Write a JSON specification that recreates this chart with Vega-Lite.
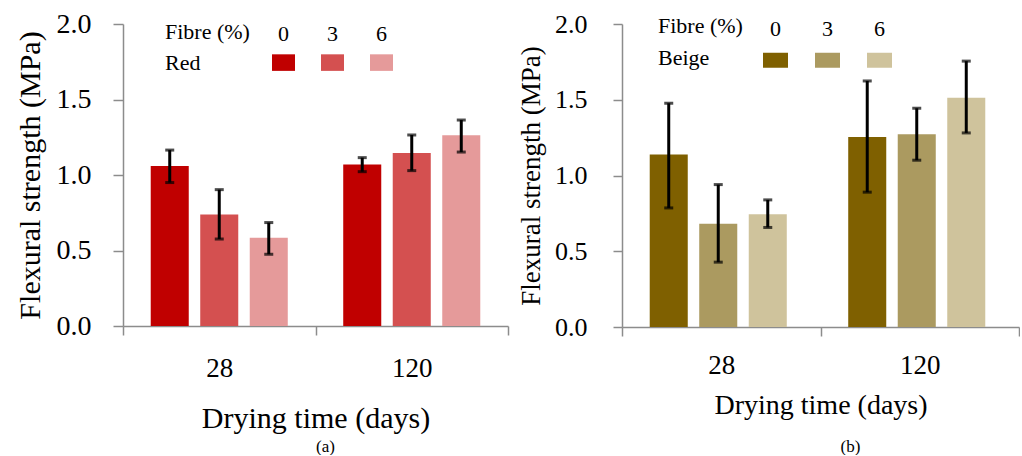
{
  "$schema": "https://vega.github.io/schema/vega-lite/v6.json",
  "padding": {"left": 14, "top": 10, "right": 0, "bottom": 0},
  "spacing": 8,
  "background": "white",
  "config": {
    "view": {"stroke": null},
    "font": "Liberation Serif",
    "axis": {
      "grid": false,
      "domainColor": "#8c8c8c",
      "tickColor": "#8c8c8c",
      "domainWidth": 1.5,
      "tickWidth": 1.5,
      "labelColor": "black",
      "titleColor": "black",
      "titleFontWeight": "normal",
      "labelFont": "Liberation Serif",
      "titleFont": "Liberation Serif"
    },
    "legend": {
      "labelFont": "Liberation Serif",
      "titleFont": "Liberation Serif",
      "titleFontWeight": "normal",
      "labelColor": "black",
      "titleColor": "black"
    }
  },
  "datasets": {
    "red": [
      {"days": "28", "fibre": "0", "mean": 1.06, "low": 0.95, "high": 1.165},
      {"days": "28", "fibre": "3", "mean": 0.738, "low": 0.576, "high": 0.903},
      {"days": "28", "fibre": "6", "mean": 0.585, "low": 0.475, "high": 0.685},
      {"days": "120", "fibre": "0", "mean": 1.069, "low": 1.022, "high": 1.115},
      {"days": "120", "fibre": "3", "mean": 1.146, "low": 1.029, "high": 1.265},
      {"days": "120", "fibre": "6", "mean": 1.263, "low": 1.152, "high": 1.364}
    ],
    "beige": [
      {"days": "28", "fibre": "0", "mean": 1.138, "low": 0.786, "high": 1.477},
      {"days": "28", "fibre": "3", "mean": 0.681, "low": 0.428, "high": 0.94},
      {"days": "28", "fibre": "6", "mean": 0.745, "low": 0.657, "high": 0.839},
      {"days": "120", "fibre": "0", "mean": 1.254, "low": 0.89, "high": 1.624},
      {"days": "120", "fibre": "3", "mean": 1.272, "low": 1.101, "high": 1.444},
      {"days": "120", "fibre": "6", "mean": 1.514, "low": 1.281, "high": 1.755}
    ]
  },
  "resolve": {"scale": {"fill": "independent"}, "legend": {"fill": "independent"}},
  "hconcat": [
    {
      "width": 385,
      "height": 302,
      "data": {"name": "red"},
      "title": {"text": "(a)", "orient": "bottom", "fontSize": 17, "fontWeight": "normal", "font": "Liberation Serif", "dx": 10, "offset": 6},
      "encoding": {
        "x": {
          "field": "days", "type": "nominal", "sort": ["28", "120"],
          "scale": {"paddingInner": 0, "paddingOuter": 0},
          "title": "Drying time (days)",
          "axis": {"labelAngle": 0, "tickBand": "extent", "tickSize": 9, "labelPadding": 20, "labelFont": "Liberation Serif", "labelFontSize": 27, "titleFontSize": 30, "titlePadding": 22}
        },
        "xOffset": {"field": "fibre", "type": "nominal", "sort": ["0", "3", "6"], "scale": {"paddingInner": 0.232, "paddingOuter": 0.56}}
      },
      "layer": [
        {
          "mark": {"type": "bar"},
          "encoding": {
            "y": {
              "field": "mean", "type": "quantitative",
              "scale": {"domain": [0, 2]},
              "title": "Flexural strength (MPa)",
              "axis": {"values": [0, 0.5, 1, 1.5, 2], "format": ".1f", "tickSize": 10, "labelPadding": 22, "labelFont": "Liberation Serif", "labelFontSize": 28, "titleFontSize": 30, "titlePadding": 11}
            },
            "fill": {
              "field": "fibre", "type": "nominal",
              "scale": {"domain": ["0", "3", "6"], "range": ["#c00000", "#d45050", "#e59a9a"]},
              "legend": {
                "orient": "none", "legendX": 42, "legendY": -2,
                "direction": "horizontal",
                "title": ["Fibre (%)", "Red"],
                "titleOrient": "left", "titleAnchor": "start", "titleBaseline": "top",
                "titleFont": "Liberation Serif", "labelFont": "Liberation Serif",
                "titleFontSize": 22, "titleLineHeight": 30.5, "titlePadding": 22,
                "labelFontSize": 22, "labelAlign": "center", "labelBaseline": "middle", "labelOffset": -11.5,
                "symbolType": "M-1,1.8H1V3.24H-1Z", "symbolSize": 529, "symbolStrokeWidth": 0, "symbolOpacity": 1,
                "columnPadding": 26
              }
            }
          }
        },
        {
          "mark": {"type": "rule", "strokeWidth": 3, "color": "black"},
          "encoding": {"y": {"field": "low", "type": "quantitative"}, "y2": {"field": "high"}}
        },
        {
          "mark": {"type": "tick", "thickness": 3, "size": 9, "color": "black"},
          "encoding": {"y": {"field": "low", "type": "quantitative"}}
        },
        {
          "mark": {"type": "tick", "thickness": 3, "size": 9, "color": "black"},
          "encoding": {"y": {"field": "high", "type": "quantitative"}}
        }
      ]
    },
    {
      "width": 397,
      "height": 303,
      "data": {"name": "beige"},
      "title": {"text": "(b)", "orient": "bottom", "fontSize": 17, "fontWeight": "normal", "font": "Liberation Serif", "dx": 30, "offset": 20},
      "encoding": {
        "x": {
          "field": "days", "type": "nominal", "sort": ["28", "120"],
          "scale": {"paddingInner": 0, "paddingOuter": 0},
          "title": "Drying time (days)",
          "axis": {"labelAngle": 0, "tickBand": "extent", "tickSize": 9, "labelPadding": 16, "labelFont": "Liberation Serif", "labelFontSize": 27, "titleFontSize": 28, "titlePadding": 13}
        },
        "xOffset": {"field": "fibre", "type": "nominal", "sort": ["0", "3", "6"], "scale": {"paddingInner": 0.153, "paddingOuter": 0.6}}
      },
      "layer": [
        {
          "mark": {"type": "bar"},
          "encoding": {
            "y": {
              "field": "mean", "type": "quantitative",
              "scale": {"domain": [0, 2]},
              "title": "Flexural strength (MPa)",
              "axis": {"values": [0, 0.5, 1, 1.5, 2], "format": ".1f", "tickSize": 9, "labelPadding": 26, "labelFont": "Liberation Serif", "labelFontSize": 26, "titleFontSize": 27, "titlePadding": 9}
            },
            "fill": {
              "field": "fibre", "type": "nominal",
              "scale": {"domain": ["0", "3", "6"], "range": ["#7f6000", "#ab9a60", "#cfc39c"]},
              "legend": {
                "orient": "none", "legendX": 36, "legendY": -8,
                "direction": "horizontal",
                "title": ["Fibre (%)", "Beige"],
                "titleOrient": "left", "titleAnchor": "start", "titleBaseline": "top",
                "titleFont": "Liberation Serif", "labelFont": "Liberation Serif",
                "titleFontSize": 22, "titleLineHeight": 32, "titlePadding": 20,
                "labelFontSize": 22, "labelAlign": "center", "labelBaseline": "middle", "labelOffset": -12.5,
                "symbolType": "M-1,1.92H1V3.12H-1Z", "symbolSize": 625, "symbolStrokeWidth": 0, "symbolOpacity": 1,
                "columnPadding": 27
              }
            }
          }
        },
        {
          "mark": {"type": "rule", "strokeWidth": 3, "color": "black"},
          "encoding": {"y": {"field": "low", "type": "quantitative"}, "y2": {"field": "high"}}
        },
        {
          "mark": {"type": "tick", "thickness": 3, "size": 9, "color": "black"},
          "encoding": {"y": {"field": "low", "type": "quantitative"}}
        },
        {
          "mark": {"type": "tick", "thickness": 3, "size": 9, "color": "black"},
          "encoding": {"y": {"field": "high", "type": "quantitative"}}
        }
      ]
    }
  ]
}
